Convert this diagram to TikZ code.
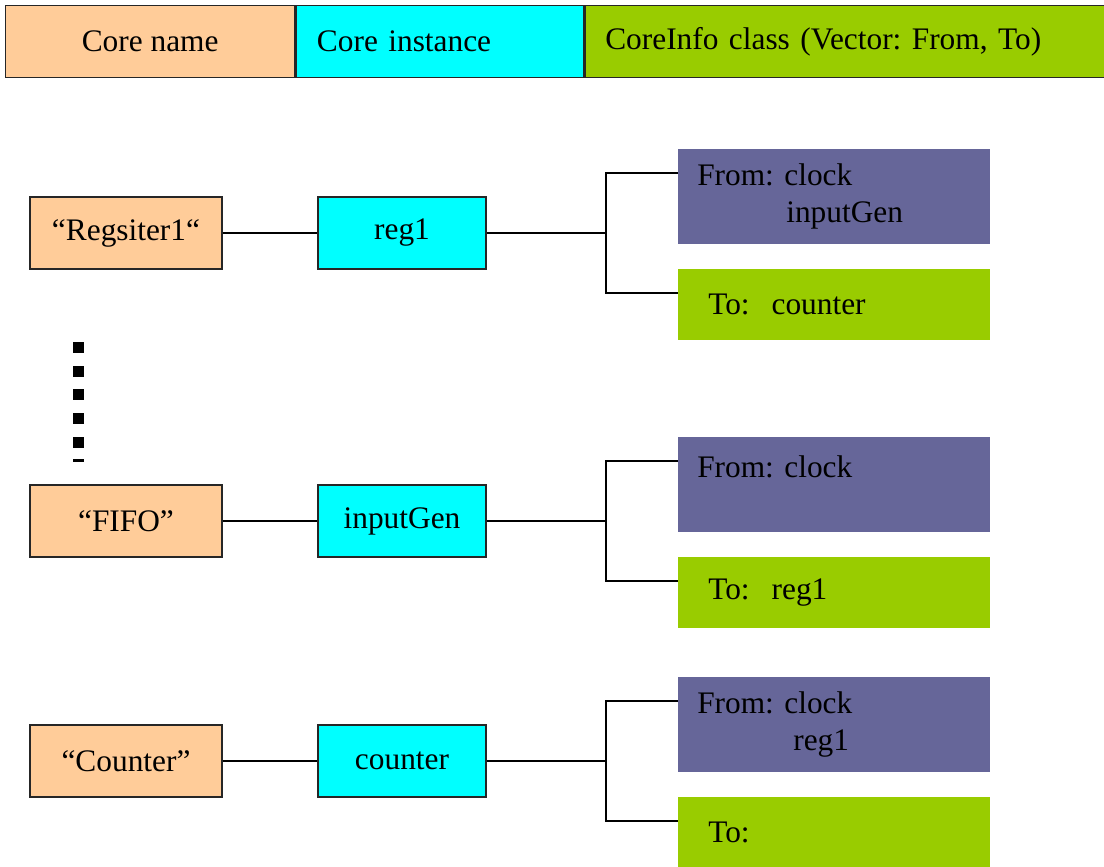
\documentclass[tikz,border=0pt]{standalone}
\usepackage{fontspec}
\setmainfont{Liberation Serif}
\usetikzlibrary{positioning,calc}
\definecolor{cnorange}{HTML}{FFCC99}
\definecolor{cncyan}{HTML}{00FFFF}
\definecolor{cngreen}{HTML}{99CC00}
\definecolor{cnpurple}{HTML}{666699}
\frenchspacing

\begin{document}
\begin{tikzpicture}[
  x=0.025cm, y=-0.025cm,
  every node/.style={font=\fontsize{22.3}{26.3}\selectfont, inner sep=0pt},
  hdcell/.style={draw=black!85, line width=0.9pt, minimum height=1.8cm, anchor=north west},
  namebox/.style={draw=black!85, fill=cnorange, line width=0.8pt, minimum width=4.8cm, minimum height=1.8cm},
  instbox/.style={draw=black!85, fill=cncyan, line width=0.8pt, minimum width=4.2cm, minimum height=1.8cm},
  frombox/.style={fill=cnpurple, minimum height=2.375cm, text width=6.85cm, inner xsep=0.475cm, align=left, anchor=north west},
  tobox/.style={fill=cngreen, minimum height=1.775cm, text width=6.3cm, inner xsep=0.75cm, align=left, anchor=north west},
  link/.style={line width=0.8pt},
]
\useasboundingbox (0,0) rectangle (1104,867);

% header row
\node[hdcell, fill=cnorange, minimum width=7.225cm] (hdname) at (5,5) {Core name};
\node[hdcell, fill=cncyan, text width=6.15cm, inner xsep=0.525cm, align=left] (hdinst) at (hdname.north east) {Core instance};
\node[hdcell, fill=cngreen, text width=12.025cm, inner xsep=0.5cm, align=left] (hdinfo) at (hdinst.north east) {CoreInfo class (Vector: From, To)};

% one row per core
\foreach \i/\rowy/\cname/\cinst/\cfrom/\cto in {%
  1/197/{“Regsiter1“}/reg1/{From: clock\\\hspace*{2.225cm}inputGen}/{To:\hspace{0.55cm}counter},
  2/485/{“FIFO”}/inputGen/{From: clock\\\mbox{}}/{To:\hspace{0.55cm}reg1},
  3/725/{“Counter”}/counter/{From: clock\\\hspace*{2.4cm}reg1}/{To:}%
} {
  \pgfmathsetmacro{\cy}{\rowy + 36}
  \node[namebox] (nm\i) at (126,\cy) {\cname};
  \node[instbox] (in\i) at (402,\cy) {\cinst};
  \node[frombox] (fr\i) at (678,\rowy-48) {\cfrom};
  \node[tobox] (to\i) at (678,\rowy+72) {\cto};
  \coordinate (jn\i) at (606,\cy);
  \draw[link] (nm\i) -- (in\i);
  \draw[link] (in\i) -- (jn\i);
  \draw[link] ([yshift=-0.6cm]fr\i.north west) -| (jn\i) |- ([yshift=-0.6cm]to\i.north west);
}

% dotted gap between the rows
\foreach \d in {342,365.5,389,413,437}
  \fill (73,\d) rectangle (84,\d+11);
\fill (73,459) rectangle (84,461.5);
\end{tikzpicture}
\end{document}
